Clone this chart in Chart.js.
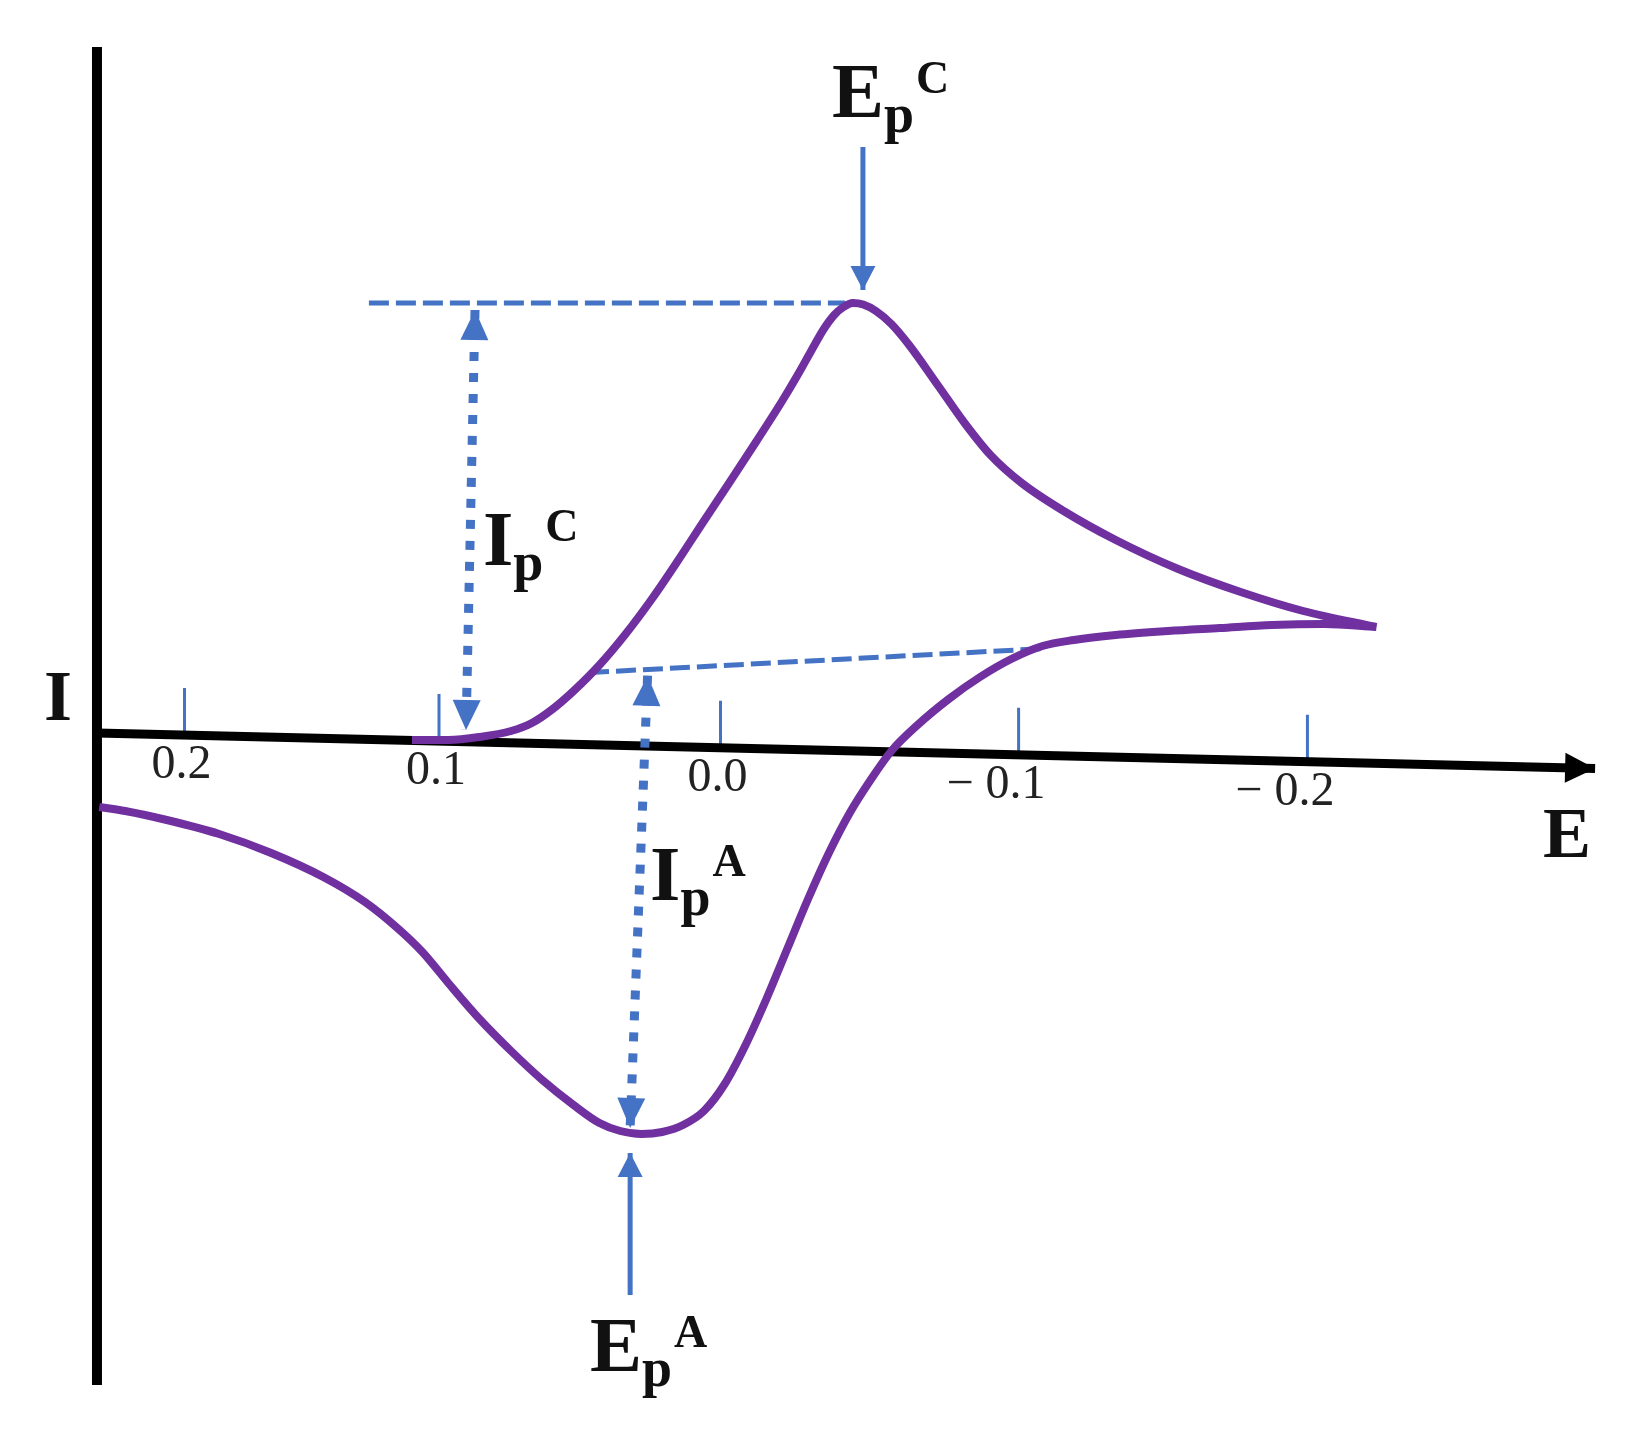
<!DOCTYPE html>
<html>
<head>
<meta charset="utf-8">
<script src="https://cdn.jsdelivr.net/npm/chart.js@4"></script>
<style>
html, body { margin: 0; padding: 0; background: #fff; }
#wrap { width: 1635px; height: 1433px; }
</style>
</head>
<body>
<div id="wrap"><canvas id="cv"></canvas></div>
<script>
// cyclic voltammogram, E in V (reversed axis), I in arbitrary units
const forwardE = [0.1096, 0.0967, 0.0856, 0.0744, 0.0670, 0.0596, 0.0522, 0.0430, 0.0337, 0.0244, 0.0152, 0.0059, -0.0033, -0.0126, -0.0219, -0.0274, -0.0322, -0.0367, -0.0404, -0.0437, -0.0470, -0.0507, -0.0552, -0.0607, -0.0670, -0.0774, -0.0867, -0.0959, -0.1070, -0.1219, -0.1404, -0.1626, -0.1848, -0.2070, -0.2330];
const forwardI = [-0.07, -0.07, -0.04, 0.02, 0.10, 0.24, 0.42, 0.68, 0.99, 1.34, 1.72, 2.12, 2.51, 2.91, 3.32, 3.58, 3.82, 4.04, 4.18, 4.26, 4.30, 4.285, 4.22, 4.09, 3.88, 3.47, 3.10, 2.78, 2.50, 2.22, 1.93, 1.64, 1.41, 1.22, 1.06];
const reverseE = [-0.2330, -0.2144, -0.1959, -0.1774, -0.1589, -0.1404, -0.1256, -0.1144, -0.1033, -0.0922, -0.0811, -0.0700, -0.0607, -0.0533, -0.0459, -0.0385, -0.0311, -0.0237, -0.0163, -0.0089, -0.0015, 0.0059, 0.0133, 0.0207, 0.0281, 0.0356, 0.0430, 0.0522, 0.0633, 0.0744, 0.0856, 0.0967, 0.1059, 0.1152, 0.1263, 0.1411, 0.1596, 0.1781, 0.1967, 0.2115, 0.2207];
const reverseI = [1.06, 1.09, 1.08, 1.05, 1.02, 0.98, 0.93, 0.87, 0.74, 0.56, 0.34, 0.08, -0.18, -0.47, -0.80, -1.20, -1.66, -2.16, -2.66, -3.12, -3.51, -3.78, -3.92, -3.99, -4.01, -3.98, -3.90, -3.72, -3.47, -3.18, -2.86, -2.50, -2.19, -1.94, -1.69, -1.44, -1.20, -1.01, -0.87, -0.78, -0.74];

// axes: y axis sits at axisE[0], x axis runs (tilted) to the arrow at axisE[1]
const axisE = [0.2215, -0.3107];
const yAxisI = [6.86, -6.52];
const xAxisI = [0, -0.355];

const tickValues = [0.1904, 0.1, 0.0, -0.1059, -0.2085];
const tickLabels = ['0.2', '0.1', '0.0', '\u2212 0.1', '\u2212 0.2'];

// peak construction lines
const peakLineE = [0.1249, -0.0442];
const peakLineI = [4.30, 4.30];
const baseLineE = [0.0467, -0.1145];
const baseLineI = [0.604, 0.844];
const ipcE = [0.0872, 0.0904];
const ipcI = [4.23, 0.03];
const ipaE = [0.0259, 0.0321];
const ipaI = [0.573, -3.95];
const epcE = [-0.0506, -0.0506];
const epcI = [5.86, 4.43];
const epaE = [0.0321, 0.0321];
const epaI = [-5.62, -4.20];

const peakLabelMain = ['E', 'I', 'I', 'E'];
const peakLabelSub = ['p', 'p', 'p', 'p'];
const peakLabelSup = ['C', 'C', 'A', 'A'];
const peakLabelE = [-0.0396, 0.0844, 0.0250, 0.0464];
const peakLabelI = [6.16, 1.68, -1.67, -6.38];

const purple = '#7030A0';
const blue = '#4472C4';

const pts = (xs, ys) => xs.map((x, i) => ({x: x, y: ys[i]}));
const axisIAt = e => xAxisI[0] + (xAxisI[1] - xAxisI[0]) * (axisE[0] - e) / (axisE[0] - axisE[1]);

let tickData = [];
tickValues.forEach(v => {
    tickData.push({x: v, y: axisIAt(v)});
    tickData.push({x: v, y: axisIAt(v) + 0.47});
    tickData.push({x: v, y: null});
});

const arrowHeads = {
    id: 'arrowHeads',
    afterDatasetsDraw(chart) {
        const ctx = chart.ctx;
        chart.data.datasets.forEach((ds, i) => {
            if (!ds.heads) return;
            const p = chart.getDatasetMeta(i).data;
            ds.heads.forEach(end => {
                const a = end === 'start' ? p[1] : p[p.length - 2];
                const b = end === 'start' ? p[0] : p[p.length - 1];
                const ang = Math.atan2(b.y - a.y, b.x - a.x);
                ctx.save();
                ctx.translate(b.x, b.y);
                ctx.rotate(ang);
                ctx.beginPath();
                ctx.moveTo(0, 0);
                ctx.lineTo(-ds.headLength, -ds.headWidth / 2);
                ctx.lineTo(-ds.headLength, ds.headWidth / 2);
                ctx.closePath();
                ctx.fillStyle = ds.borderColor;
                ctx.fill();
                ctx.restore();
            });
        });
    }
};

const cvLabels = {
    id: 'cvLabels',
    afterDatasetsDraw(chart) {
        const {ctx, scales: {x, y}} = chart;
        ctx.save();
        ctx.textBaseline = 'alphabetic';

        ctx.font = '48px "Liberation Serif"';
        ctx.fillStyle = '#222';
        ctx.textAlign = 'right';
        tickValues.forEach((v, i) => {
            ctx.fillText(tickLabels[i], x.getPixelForValue(v) + 27, y.getPixelForValue(axisIAt(v)) + 43);
        });

        ctx.fillStyle = '#111';
        ctx.textAlign = 'left';
        peakLabelMain.forEach((m, i) => {
            let px = x.getPixelForValue(peakLabelE[i]);
            const py = y.getPixelForValue(peakLabelI[i]);
            ctx.font = 'bold 78px "Liberation Serif"';
            ctx.fillText(m, px, py);
            px += ctx.measureText(m).width;
            ctx.font = 'bold 54px "Liberation Serif"';
            ctx.fillText(peakLabelSub[i], px, py + 15);
            px += ctx.measureText(peakLabelSub[i]).width + 2;
            ctx.font = 'bold 46px "Liberation Serif"';
            ctx.fillText(peakLabelSup[i], px, py - 24);
        });

        ctx.font = 'bold 72px "Liberation Serif"';
        ctx.textAlign = 'center';
        ctx.fillText('I', x.getPixelForValue(0.2353), y.getPixelForValue(0.13));
        ctx.textAlign = 'left';
        ctx.fillText('E', x.getPixelForValue(-0.2922), y.getPixelForValue(-1.24));
        ctx.restore();
    }
};

const line = (data, color, width, extra) => Object.assign({
    data: data,
    showLine: true,
    borderColor: color,
    backgroundColor: color,
    borderWidth: width,
    pointRadius: 0,
    fill: false,
    order: 2
}, extra || {});

const ctx = document.getElementById('cv').getContext('2d');
const cvChart = new Chart(ctx, {
    type: 'scatter',
    data: {
        datasets: [
            line(pts(forwardE, forwardI), purple, 8, {cubicInterpolationMode: 'monotone', order: 0}),
            line(pts(reverseE, reverseI), purple, 8, {cubicInterpolationMode: 'monotone', order: 0}),
            line(pts([axisE[0], axisE[0]], yAxisI), '#000', 10, {order: 5}),
            line(pts(axisE, xAxisI), '#000', 9, {order: 5, heads: ['end'], headLength: 30, headWidth: 30}),
            line(tickData, blue, 3, {order: 6}),
            line(pts(peakLineE, peakLineI), blue, 5, {borderDash: [20, 7]}),
            line(pts(baseLineE, baseLineI), blue, 5, {borderDash: [20, 7]}),
            line(pts(ipcE, ipcI), blue, 9, {borderDash: [9, 12], heads: ['start', 'end'], headLength: 30, headWidth: 28}),
            line(pts(ipaE, ipaI), blue, 9, {borderDash: [9, 12], heads: ['start', 'end'], headLength: 30, headWidth: 28}),
            line(pts(epcE, epcI), blue, 5, {heads: ['end'], headLength: 24, headWidth: 25}),
            line(pts(epaE, epaI), blue, 5, {heads: ['end'], headLength: 24, headWidth: 25})
        ]
    },
    options: {
        responsive: true,
        maintainAspectRatio: false,
        animation: false,
        layout: { padding: 0 },
        scales: {
            x: { type: 'linear', min: -0.32487, max: 0.25595, reverse: true, display: false },
            y: { type: 'linear', min: -7.0, max: 7.33, display: false }
        },
        plugins: {
            legend: { display: false },
            tooltip: { enabled: false }
        }
    },
    plugins: [arrowHeads, cvLabels]
});
</script>
</body>
</html>
